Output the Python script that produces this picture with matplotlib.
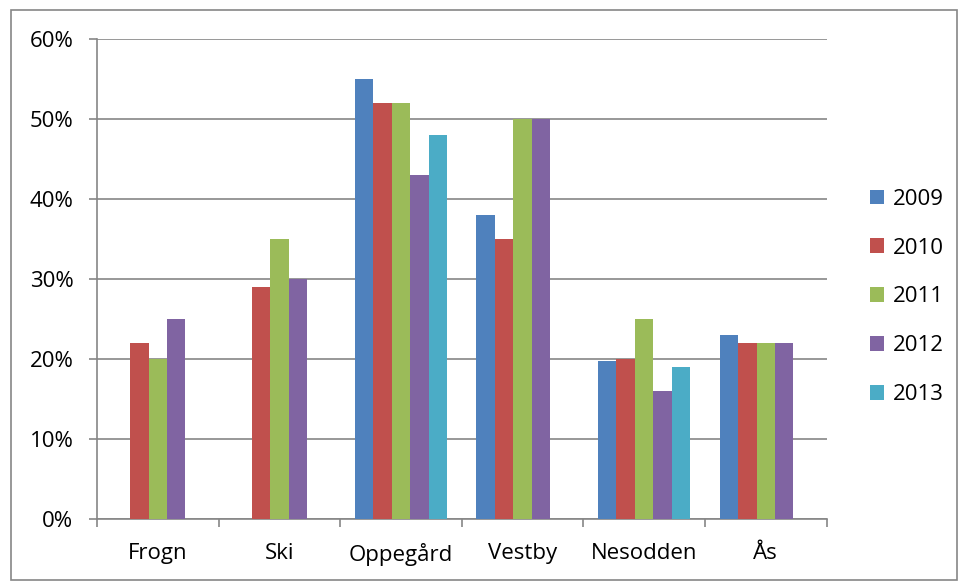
import numpy as np
import matplotlib
matplotlib.use("Agg")
import matplotlib.pyplot as plt
import matplotlib.patches as patches
from matplotlib.ticker import FuncFormatter

plt.rcParams['font.family'] = ['Open Sans', 'DejaVu Sans']

kommuner = ['Frogn', 'Ski', 'Oppegård', 'Vestby', 'Nesodden', 'Ås']
years = ['2009', '2010', '2011', '2012', '2013']
nan = np.nan
v2009 = [nan, nan, 55, 38, 19.7, 23]
v2010 = [22, 29, 52, 35, 20, 22]
v2011 = [20, 35, 52, 50, 25, 22]
v2012 = [25, 30, 43, 50, 16, 22]
v2013 = [nan, nan, 48, nan, 19, nan]
colors = ['#4F81BD', '#C0504D', '#9BBB59', '#8064A2', '#4BACC6']

fig = plt.figure(figsize=(9.6, 5.81), dpi=100)
ax = fig.add_axes([0.101, 0.1067, 0.76, 0.8263])

x = np.arange(len(kommuner))
w = 0.152
series = [v2009, v2010, v2011, v2012, v2013]
for i, (vals, yr) in enumerate(zip(series, years)):
    ax.bar(x + (i - 2) * w, vals, width=w, color=colors[i], label=yr, zorder=3)

ax.set_xlim(-0.5, len(kommuner) - 0.5)
ax.set_ylim(0, 60)
ax.set_yticks(range(0, 61, 10))
ax.yaxis.set_major_formatter(FuncFormatter(lambda v, p: f'{int(v)}%'))
ax.grid(axis='y', color='#868686', linewidth=1.2, zorder=0)

# category labels, ticks at boundaries
ax.set_xticks(x)
ax.set_xticklabels(kommuner, fontsize=16)
ax.tick_params(axis='x', length=0, pad=17)
ax.set_xticks(np.arange(-0.5, len(kommuner)), minor=True)
ax.tick_params(axis='x', which='minor', length=6, color='#868686', width=1.2)
ax.tick_params(axis='y', length=6, color='#868686', width=1.2, labelsize=16, pad=11)

for s in ['top', 'right']:
    ax.spines[s].set_visible(False)
for s in ['left', 'bottom']:
    ax.spines[s].set_color('#868686')
    ax.spines[s].set_linewidth(1.2)

fig.legend(loc='center left', bbox_to_anchor=(0.885, 0.489), frameon=False,
           fontsize=16, handlelength=0.65, handleheight=0.65,
           labelspacing=1.25, handletextpad=0.4)

fig.patches.append(patches.Rectangle((11 / 960, 1 / 581), 946 / 960, 570 / 581,
                                     transform=fig.transFigure, fill=False,
                                     edgecolor='#868686', linewidth=1.2))

fig.savefig('out.png', dpi=100)
